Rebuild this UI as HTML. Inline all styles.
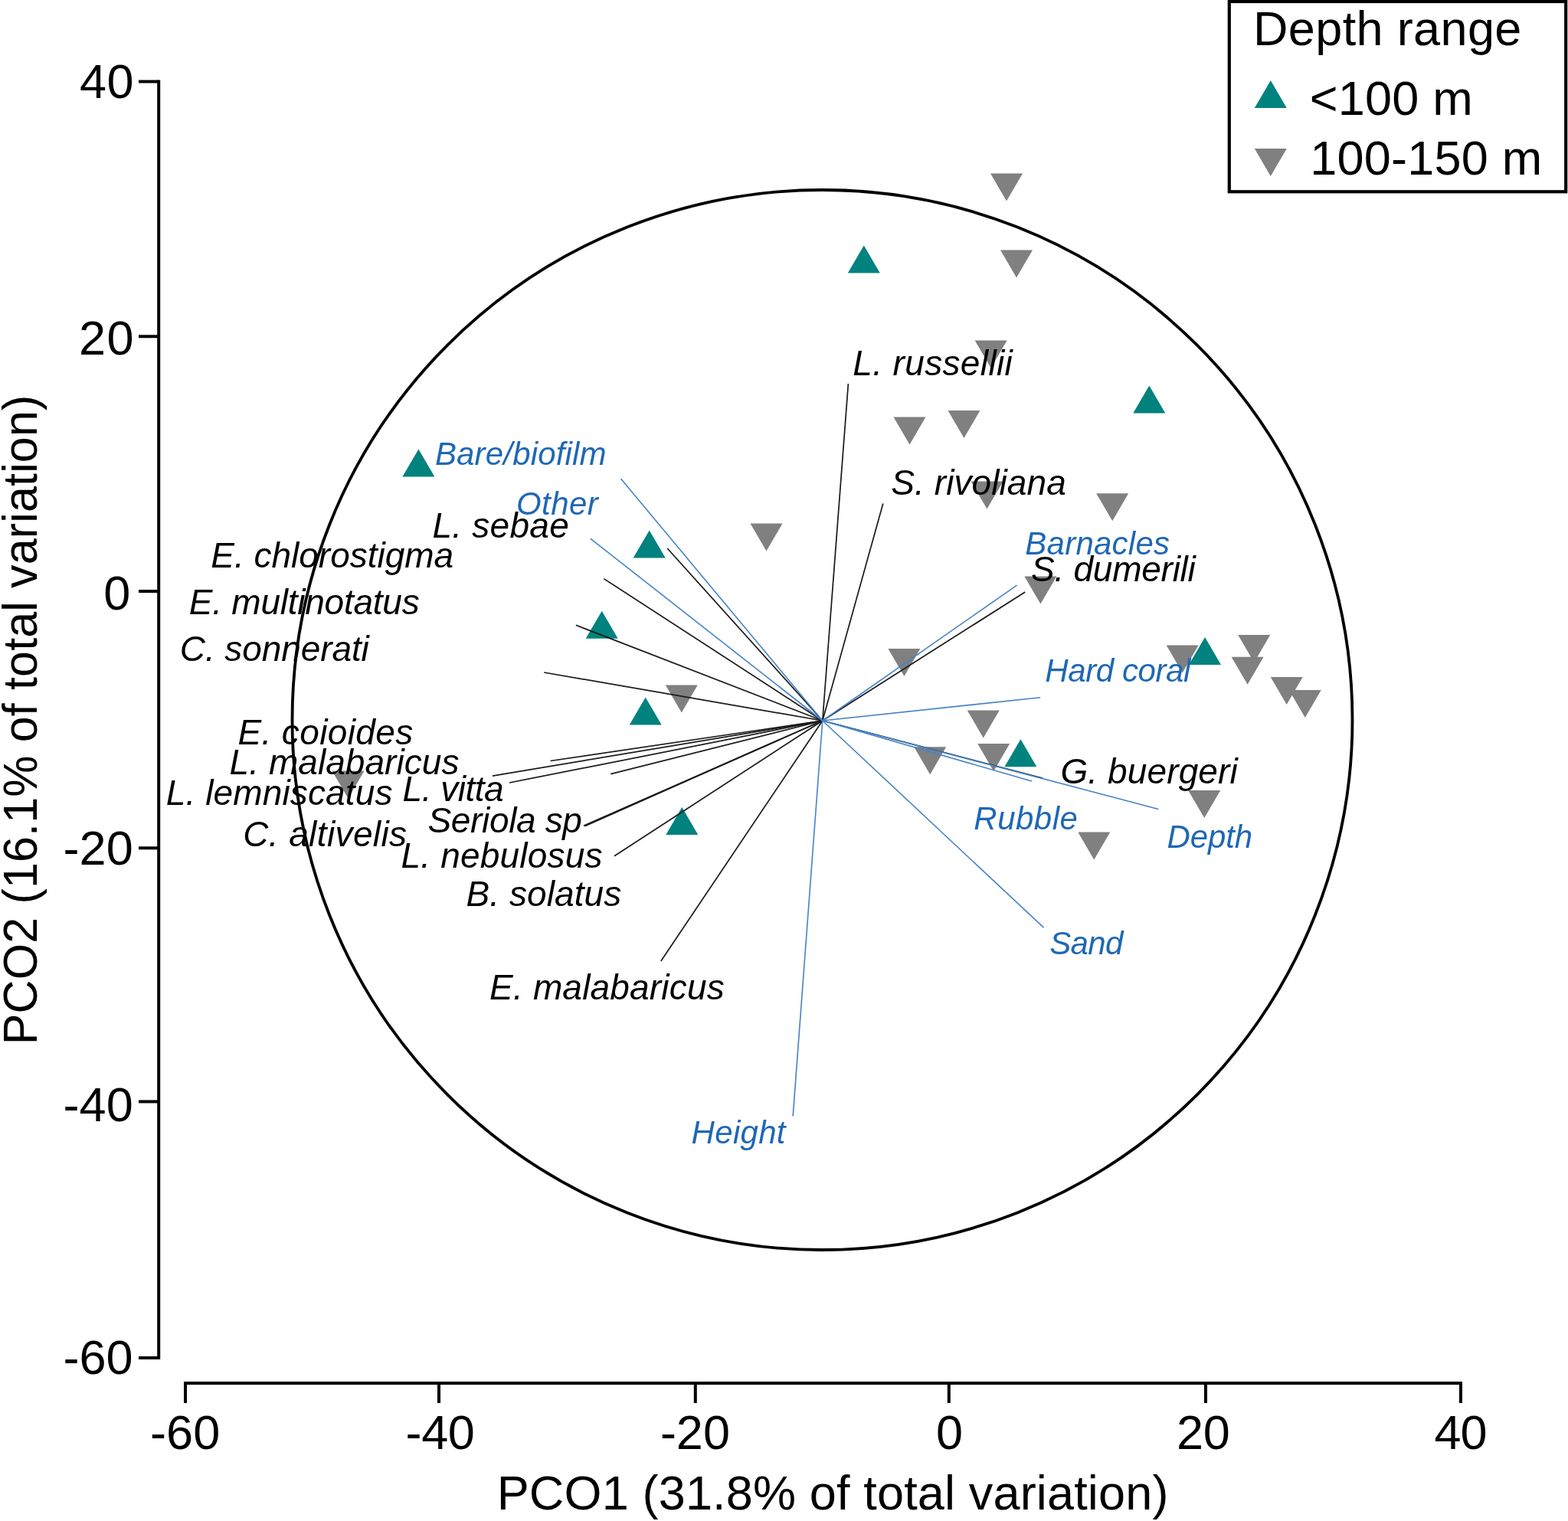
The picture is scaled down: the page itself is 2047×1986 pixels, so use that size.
<!DOCTYPE html>
<html lang="en"><head><meta charset="utf-8"><title>PCO ordination</title>
<style>
html,body{margin:0;padding:0;background:#fff;}
body{width:2047px;height:1986px;overflow:hidden;}
svg{display:block;}
text{font-family:"Liberation Sans",Arial,Helvetica,sans-serif;white-space:pre;}
.ax{font-size:63px;fill:#000;}
.sp{font-size:46px;font-style:italic;fill:#000;}
.hb{font-size:42px;font-style:italic;fill:#1f67b5;}
.lg{font-size:63px;fill:#000;}
.bl{stroke:#1a1a1a;stroke-width:1.7;fill:none;}
.bu{stroke:#4583c6;stroke-width:1.6;fill:none;}
.up{fill:#00827f;}
.dn{fill:#808080;}
</style></head><body>
<svg width="2047" height="1986" viewBox="0 0 2047 1986">
<rect x="0" y="0" width="2047" height="1986" fill="#ffffff"/>
<g>
<path class="dn" d="M979.5 683.6 h42 l-21 36 z"/>
<path class="dn" d="M868.8 894.6 h42 l-21 36 z"/>
<path class="dn" d="M1293 226.5 h42 l-21 36 z"/>
<path class="dn" d="M1306 326.5 h42 l-21 36 z"/>
<path class="dn" d="M1272.6 444.4 h42 l-21 36 z"/>
<path class="dn" d="M1166.5 544.4 h42 l-21 36 z"/>
<path class="dn" d="M1237.5 536 h42 l-21 36 z"/>
<path class="dn" d="M1267.5 628.6 h42 l-21 36 z"/>
<path class="dn" d="M1431.2 644.2 h42 l-21 36 z"/>
<path class="dn" d="M1337.4 752.6 h42 l-21 36 z"/>
<path class="dn" d="M1159.4 847 h42 l-21 36 z"/>
<path class="dn" d="M1522.6 842.4 h42 l-21 36 z"/>
<path class="dn" d="M1616.2 829.1 h42 l-21 36 z"/>
<path class="dn" d="M1607.6 857.7 h42 l-21 36 z"/>
<path class="dn" d="M1658.7 884 h42 l-21 36 z"/>
<path class="dn" d="M1682.8 901.1 h42 l-21 36 z"/>
<path class="dn" d="M1262.7 927.4 h42 l-21 36 z"/>
<path class="dn" d="M1276.2 970.9 h42 l-21 36 z"/>
<path class="dn" d="M1193.2 975.3 h42 l-21 36 z"/>
<path class="dn" d="M1551.2 1031.9 h42 l-21 36 z"/>
<path class="dn" d="M1407.3 1086.4 h42 l-21 36 z"/>
<path class="dn" d="M433.5 1006.5 h42 l-21 36 z"/>
<path class="up" d="M546.4 586.5 l21 36 h-42 z"/>
<path class="up" d="M847.7 692.5 l21 36 h-42 z"/>
<path class="up" d="M785.7 797.7 l21 36 h-42 z"/>
<path class="up" d="M842.7 910.5 l21 36 h-42 z"/>
<path class="up" d="M1127.8 320.5 l21 36 h-42 z"/>
<path class="up" d="M1500.3 503.5 l21 36 h-42 z"/>
<path class="up" d="M1573 832 l21 36 h-42 z"/>
<path class="up" d="M1332.4 965.3 l21 36 h-42 z"/>
<path class="up" d="M890.3 1054 l21 36 h-42 z"/>
</g>
<circle cx="1073.5" cy="940" r="692" fill="none" stroke="#000" stroke-width="3.8"/>
<g class="bl">
<path d="M1073.8 941 L1107.4 501"/>
<path d="M1073.8 941 L1152.8 657.5"/>
<path d="M1073.8 941 L1338.3 773"/>
<path d="M1073.8 941 L871.2 716"/>
<path d="M1073.8 941 L788.3 755.6"/>
<path d="M1073.8 941 L751.8 816.3"/>
<path d="M1073.8 941 L710.2 878"/>
<path d="M1073.8 941 L718.6 993.5"/>
<path d="M1073.8 941 L642.9 1013.1"/>
<path d="M1073.8 941 L665 1022"/>
<path d="M1073.8 941 L797.2 1010.6"/>
<path d="M1073.8 941 L762 1078.2"/>
<path d="M1073.8 941 L763.5 1078.6"/>
<path d="M1073.8 941 L802 1117.7"/>
<path d="M1073.8 941 L862.8 1255"/>
<path d="M1073.8 941 L1361 1016.1"/>
</g>
<g class="bu">
<path d="M1073.8 941 L810.5 625"/>
<path d="M1073.8 941 L770.9 703.3"/>
<path d="M1073.8 941 L1327.6 764.1"/>
<path d="M1073.8 941 L1358.2 910.7"/>
<path d="M1073.8 941 L1512.2 1056.4"/>
<path d="M1073.8 941 L1347 1020"/>
<path d="M1073.8 941 L1362.5 1211.2"/>
<path d="M1073.8 941 L1035.2 1457.4"/>
</g>
<g stroke="#000" stroke-width="4" fill="none" stroke-linecap="butt">
<path d="M207.2 104.5 V1775"/>
<path d="M181 106.5 H207.2"/>
<path d="M181 439.3 H207.2"/>
<path d="M181 772 H207.2"/>
<path d="M181 1107.3 H207.2"/>
<path d="M181 1438.4 H207.2"/>
<path d="M181 1773 H207.2"/>
<path d="M240 1806 H1909"/>
<path d="M242 1806 V1832"/>
<path d="M573 1806 V1832"/>
<path d="M907.8 1806 V1832"/>
<path d="M1238.8 1806 V1832"/>
<path d="M1574 1806 V1832"/>
<path d="M1907 1806 V1832"/>
</g>
<text class="sp" x="1113.3" y="489.5" letter-spacing="0.36">L. russellii</text>
<text class="sp" x="1163.3" y="646.0" letter-spacing="0.08">S. rivoliana</text>
<text class="sp" x="1346.0" y="758.8" letter-spacing="-0.25">S. dumerili</text>
<text class="sp" x="1384.4" y="1022.5" letter-spacing="0.12">G. buergeri</text>
<text class="sp" x="564.4" y="702.4" letter-spacing="0.27">L. sebae</text>
<text class="sp" x="275.3" y="741.0" letter-spacing="-0.01">E. chlorostigma</text>
<text class="sp" x="246.8" y="802.2" letter-spacing="-0.24">E. multinotatus</text>
<text class="sp" x="234.8" y="863.3" letter-spacing="-0.09">C. sonnerati</text>
<text class="sp" x="310.5" y="972.3" letter-spacing="0.37">E. coioides</text>
<text class="sp" x="299.6" y="1011.3" letter-spacing="0.05">L. malabaricus</text>
<text class="sp" x="216.7" y="1050.6" letter-spacing="0.13">L. lemniscatus</text>
<text class="sp" x="525.6" y="1046.0" letter-spacing="-0.51">L. vitta</text>
<text class="sp" x="558.5" y="1087.1" letter-spacing="-0.35">Seriola sp</text>
<text class="sp" x="317.2" y="1105.0" letter-spacing="0.39">C. altivelis</text>
<text class="sp" x="523.6" y="1133.0" letter-spacing="0.18">L. nebulosus</text>
<text class="sp" x="608.5" y="1182.8" letter-spacing="0.08">B. solatus</text>
<text class="sp" x="639.1" y="1304.7" letter-spacing="0.18">E. malabaricus</text>
<text class="hb" x="567.9" y="606.8" letter-spacing="0.17">Bare/biofilm</text>
<text class="hb" x="674.0" y="672.2" letter-spacing="0.44">Other</text>
<text class="hb" x="1338.3" y="723.8" letter-spacing="0.24">Barnacles</text>
<text class="hb" x="1364.3" y="889.7" letter-spacing="-0.41">Hard coral</text>
<text class="hb" x="1271.3" y="1082.9" letter-spacing="0.50">Rubble</text>
<text class="hb" x="1523.5" y="1107.0" letter-spacing="-0.13">Depth</text>
<text class="hb" x="1370.2" y="1246.2" letter-spacing="-0.64">Sand</text>
<text class="hb" x="902.6" y="1492.6" letter-spacing="0.30">Height</text>
<rect x="1604.8" y="2" width="439.4" height="248.3" fill="#fff" stroke="#000" stroke-width="4.2"/>
<path class="up" d="M1658.8 105 l21 36 h-42 z"/>
<path class="dn" d="M1637.8 194 h42 l-21 36 z"/>
<text class="lg" x="1636.0" y="59.2" letter-spacing="0.36">Depth range</text>
<text class="lg" x="1709.8" y="150.0" letter-spacing="0.19">&lt;100 m</text>
<text class="lg" x="1710.2" y="228.3" letter-spacing="0.24">100-150 m</text>
<text class="ax" x="196.0" y="1892.2" letter-spacing="0.14">-60</text>
<text class="ax" x="529.6" y="1892.2" letter-spacing="-0.41">-40</text>
<text class="ax" x="861.9" y="1892.2" letter-spacing="-0.01">-20</text>
<text class="ax" x="1222.0" y="1892.2" letter-spacing="0.00">0</text>
<text class="ax" x="1536.0" y="1892.2" letter-spacing="-0.25">20</text>
<text class="ax" x="1872.4" y="1892.2" letter-spacing="-1.02">40</text>
<text class="ax" x="104.1" y="127.8" letter-spacing="0.38">40</text>
<text class="ax" x="102.9" y="462.8" letter-spacing="1.55">20</text>
<text class="ax" x="135.2" y="796.0" letter-spacing="0.00">0</text>
<text class="ax" x="82.6" y="1129.0" letter-spacing="0.04">-20</text>
<text class="ax" x="82.6" y="1463.5" letter-spacing="0.04">-40</text>
<text class="ax" x="82.6" y="1794.3" letter-spacing="-0.11">-60</text>
<text class="ax" x="648.7" y="1970.9" letter-spacing="0.16">PCO1 (31.8% of total variation)</text>
<text class="ax" style="font-size:63px" transform="translate(48.4 1359.6) rotate(-90) scale(0.968 1)" x="-4.9" y="0" letter-spacing="0.16">PCO2 (16.1% of total variation)</text>
</svg></body></html>
